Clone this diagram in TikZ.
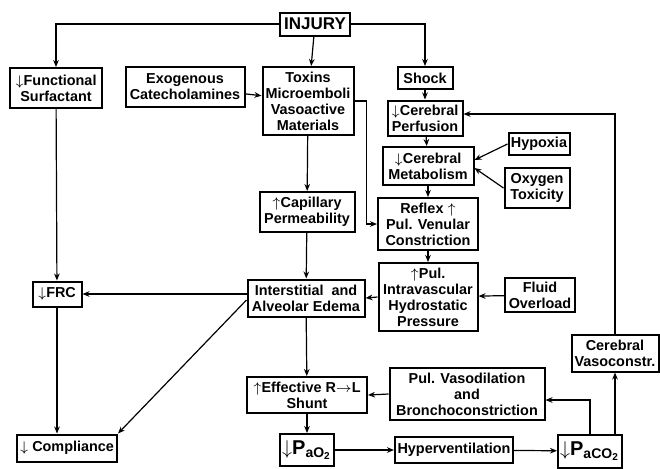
\documentclass[tikz,border=0pt]{standalone}
\usepackage{fontspec}
\setmainfont{Liberation Sans}
\usetikzlibrary{positioning,arrows.meta}
\newcommand{\decr}{$\downarrow$}
\newcommand{\incr}{$\uparrow$}

\begin{document}
\begin{tikzpicture}[
  x=0.5pt, y=-0.5pt,
  every node/.style={font=\fontsize{7.2}{8}\selectfont\bfseries},
  box/.style={draw, line width=1pt, align=center, inner sep=1pt},
  sz/.style 2 args={minimum width=#1*0.5pt, minimum height=#2*0.5pt},
  big/.style={font=\fontsize{10}{11}\selectfont\bfseries},
  arrow/.style={-{Stealth[length=3.5pt,width=2.8pt]}, line width=0.6pt}
]
\useasboundingbox (0,0) rectangle (660,468);

% top row
\node[box, sz={70}{23}, font=\fontsize{8.5}{10}\selectfont\bfseries] (injury) at (315,24) {INJURY};
\node[box, sz={92}{40}] (surf) at (56,88) {\decr Functional\\Surfactant};
\node[box, sz={119}{40}] (exo) at (185,87) {Exogenous\\Catecholamines};
\node[box, sz={91}{68}] (tox) at (308,101) {Toxins\\Microemboli\\Vasoactive\\Materials};
\node[box, sz={55}{22}] (shock) at (425,78) {Shock};

% cerebral branch
\node[box, sz={75}{35}] (perf) at (425,118) {\decr Cerebral\\Perfusion};
\node[box, sz={61}{22}] (hypox) at (539,144) {Hypoxia};
\node[box, sz={91}{38}] (metab) at (428,166) {\decr Cerebral\\Metabolism};
\node[box, sz={65}{40}] (oxy) at (537,188) {Oxygen\\Toxicity};
\node[box, sz={100}{52}] (reflex) at (428,224) {Reflex \incr\\Pul. Venular\\Constriction};
\node[box, sz={99}{68}] (hydro) at (428,297) {\incr Pul.\\Intravascular\\Hydrostatic\\Pressure};
\node[box, sz={70}{34}] (fluid) at (540,295) {Fluid\\Overload};

% lung branch
\node[box, sz={95}{40}] (cap) at (307,212) {\incr Capillary\\Permeability};
\node[box, sz={117}{37}] (edema) at (306,298) {Interstitial\ \ and\\Alveolar Edema};
\node[box, sz={49}{25}] (frc) at (57,294) {\decr FRC};
\node[box, sz={100}{27}] (compl) at (67,448) {\decr\ Compliance};
\node[box, sz={120}{36}] (shunt) at (307,395) {\incr Effective R$\rightarrow$L\\Shunt};
\node[box, sz={53}{32}, big] (pao) at (307,450) {\decr P\textsubscript{aO\textsubscript{2}}};
\node[box, sz={155}{52}] (vaso) at (467,394) {Pul. Vasodilation\\and\\Bronchoconstriction};
\node[box, sz={118}{26}] (hyper) at (454,450) {Hyperventilation};
\node[box, sz={64}{33}, big] (paco) at (590,451) {\decr P\textsubscript{aCO\textsubscript{2}}};
\node[box, sz={87}{37}] (cvaso) at (615,353) {Cerebral\\Vasoconstr.};

% connectors
\draw[arrow] (injury.west) -| (surf.north);
\draw[arrow] (injury) -- (tox);
\draw[arrow] (injury.east) -| (shock.north);
\draw[arrow] (exo) -- (tox);
\draw[arrow] (tox.east) -- ++(12,0) |- (reflex.west);
\draw[arrow] (shock) -- (perf);
\draw[arrow] (perf) -- (metab);
\draw[arrow] (hypox.west) -- ([yshift=3pt]metab.east);
\draw[arrow] (oxy.west) -- ([yshift=-1pt]metab.east);
\draw[arrow] (metab) -- (reflex);
\draw[arrow] (reflex) -- (hydro);
\draw[arrow] (fluid) -- (hydro);
\draw[arrow] (hydro.west) -- (edema.east);
\draw[arrow] (cap) -- (edema);
\draw[arrow] (tox) -- (cap);
\draw[arrow] (surf) -- (frc);
\draw[arrow] (edema.west |- frc) -- (frc);
\draw[arrow] ([yshift=-1pt]edema.west) -- (compl.north east);
\draw[arrow] (frc.south) -- (frc.south |- compl.north);
\draw[arrow] (edema) -- (shunt);
\draw[arrow] (vaso.west) -- (shunt.east);
\draw[arrow] (shunt) -- (pao);
\draw[arrow] (pao) -- (hyper);
\draw[arrow] (hyper) -- (paco);
\draw[arrow] (paco.north) |- ([yshift=-3pt]vaso.east);
\draw[arrow] (paco.north -| cvaso) -- (cvaso.south);
\draw[arrow] (cvaso.north) |- ([yshift=2pt]perf.east);
\end{tikzpicture}
\end{document}
